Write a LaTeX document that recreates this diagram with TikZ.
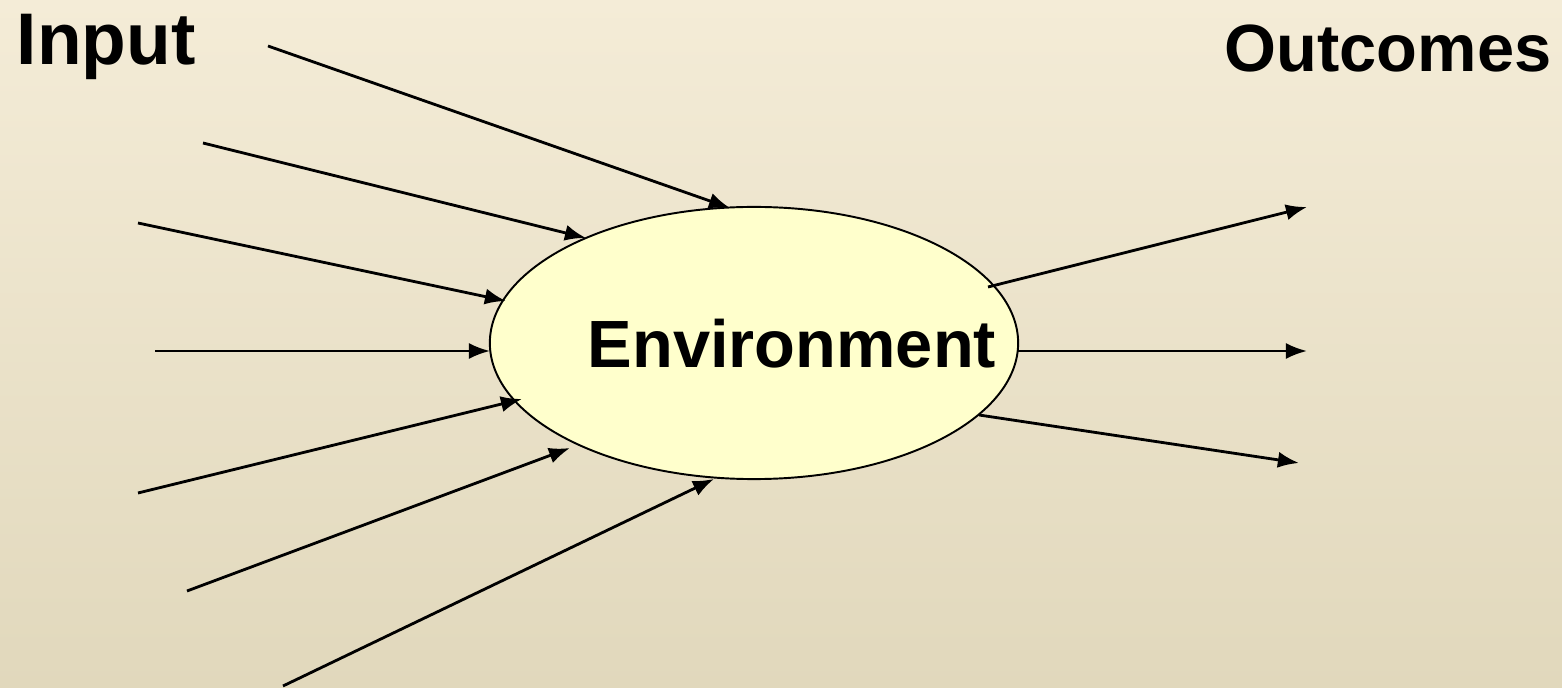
\documentclass[tikz,border=0pt]{standalone}
\usepackage{fontspec}
\setmainfont{Liberation Sans}
\usetikzlibrary{shapes.geometric,arrows.meta}
\definecolor{bgtop}{RGB}{244,236,215}
\definecolor{bgbot}{RGB}{225,216,188}
\definecolor{envfill}{RGB}{255,255,204}
\tikzset{
  flow/.style={line width=0.8pt,-{Latex[length=6pt,width=4.6pt]}},
  title/.style={inner sep=0pt,font=\bfseries\fontsize{19}{22}\selectfont},
}
\begin{document}
\begin{tikzpicture}[x=0.01cm,y=-0.01cm]
\shade[top color=bgtop,bottom color=bgbot] (0,0) rectangle (1562,688);
\useasboundingbox (0,0) rectangle (1562,688);
\node[ellipse,draw,line width=0.55pt,fill=envfill,minimum width=5.28cm,minimum height=2.72cm,inner sep=0pt,outer sep=0pt] (env) at (754,343) {};
\node[title,anchor=base west] (envtext) at (587,368) {Environment};
\node[inner sep=0pt,anchor=base west,font=\bfseries\fontsize{20.8}{24}\selectfont] (input) at (16,65) {Input};
\node[title,anchor=base west] (outcomes) at (1224,72) {Outcomes};
% input free ends
\coordinate (i1) at (268,46);
\coordinate (i2) at (203,143);
\coordinate (i3) at (138,223);
\coordinate (i4) at (155,351);
\coordinate (i5) at (138,493);
\coordinate (i6) at (187,591);
\coordinate (i7) at (283,686);
% points on the border of the ellipse
\coordinate (e1) at (730,208);
\coordinate (e2) at (586,238);
\coordinate (e3) at (506,301);
\coordinate (e4) at (490,351);
\coordinate (e5) at (522,399);
\coordinate (e6) at (570,448);
\coordinate (e7) at (714,479);
\coordinate (s1) at (988,287);
\coordinate (s2) at (1018,351);
\coordinate (s3) at (979,415);
% output free ends
\coordinate (o1) at (1307,207);
\coordinate (o2) at (1307,351);
\coordinate (o3) at (1299,463);
\draw[flow] (i1) -- (e1);
\draw[flow] (i2) -- (e2);
\draw[flow] (i3) -- (e3);
\draw[flow] (i4) -- (e4);
\draw[flow] (i5) -- (e5);
\draw[flow] (i6) -- (e6);
\draw[flow] (i7) -- (e7);
\draw[flow] (s1) -- (o1);
\draw[flow] (s2) -- (o2);
\draw[flow] (s3) -- (o3);
\end{tikzpicture}
\end{document}
